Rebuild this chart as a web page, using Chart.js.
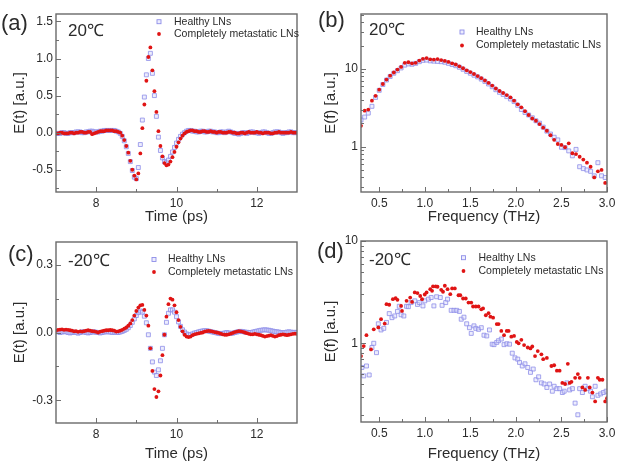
<!DOCTYPE html>
<html><head><meta charset="utf-8">
<script src="https://cdn.jsdelivr.net/npm/chart.js@4.4.0/dist/chart.umd.min.js"></script>
<style>
html,body{margin:0;padding:0;background:#fff;width:624px;height:472px;overflow:hidden}
canvas{position:absolute;left:0;top:0}
</style></head><body>
<canvas id="pa" width="624" height="472"></canvas>
<canvas id="pb" width="624" height="472"></canvas>
<canvas id="pc" width="624" height="472"></canvas>
<canvas id="pd" width="624" height="472"></canvas>
<script>
// ---------- series labels ----------
const healthyLabel = 'Healthy LNs';
const metaLabel = 'Completely metastatic LNs';

// ---------- time axis (ps) for panels (a) and (c) ----------
const timePs = [
 7.00,7.05,7.10,7.15,7.20,7.25,7.30,7.35,7.40,7.45,
 7.50,7.55,7.60,7.65,7.70,7.75,7.80,7.85,7.90,7.95,
 8.00,8.05,8.10,8.15,8.20,8.25,8.30,8.35,8.40,8.45,
 8.50,8.55,8.60,8.65,8.70,8.75,8.80,8.85,8.90,8.95,
 9.00,9.05,9.10,9.15,9.20,9.25,9.30,9.35,9.40,9.45,
 9.50,9.55,9.60,9.65,9.70,9.75,9.80,9.85,9.90,9.95,
 10.00,10.05,10.10,10.15,10.20,10.25,10.30,10.35,10.40,10.45,
 10.50,10.55,10.60,10.65,10.70,10.75,10.80,10.85,10.90,10.95,
 11.00,11.05,11.10,11.15,11.20,11.25,11.30,11.35,11.40,11.45,
 11.50,11.55,11.60,11.65,11.70,11.75,11.80,11.85,11.90,11.95,
 12.00,12.05,12.10,12.15,12.20,12.25,12.30,12.35,12.40,12.45,
 12.50,12.55,12.60,12.65,12.70,12.75,12.80,12.85,12.90,12.95,
 13.00];

// (a) 20 °C, E(t)
const aHealthy = [
 -0.01,-0.01,-0.01,0.00,0.00,-0.01,-0.01,0.00,0.00,0.00,
 0.01,0.01,0.01,0.00,0.00,0.01,0.01,0.02,0.02,0.01,
 0.01,0.01,0.02,0.02,0.03,0.03,0.03,0.03,0.03,0.03,
 0.02,0.01,-0.01,-0.05,-0.11,-0.19,-0.28,-0.39,-0.51,-0.60,
 -0.62,-0.47,-0.16,0.17,0.48,0.78,1.00,1.07,0.80,0.50,
 0.22,-0.06,-0.24,-0.34,-0.39,-0.40,-0.37,-0.32,-0.26,-0.20,
 -0.14,-0.09,-0.05,-0.02,0.00,0.02,0.03,0.03,0.02,0.02,
 0.01,0.01,0.02,0.02,0.01,0.01,0.02,0.02,0.01,0.01,
 0.00,0.00,0.01,0.01,0.00,0.01,0.02,0.01,0.00,-0.01,
 -0.01,-0.02,-0.01,0.00,0.00,-0.01,0.00,0.01,0.01,0.00,
 0.00,-0.01,0.00,0.01,0.01,0.00,-0.01,-0.01,0.00,0.01,
 0.01,0.01,0.00,-0.01,0.00,0.00,0.01,0.01,0.00,0.00,
 0.00];
const aMeta = [
 -0.01,-0.01,0.00,0.00,-0.01,-0.01,-0.01,0.00,0.00,-0.01,
 0.00,0.00,0.01,0.01,0.00,0.00,0.01,0.01,-0.02,-0.01,
 0.00,0.01,0.02,0.02,0.02,0.03,0.03,0.03,0.03,0.02,
 0.02,0.01,0.00,-0.04,-0.10,-0.18,-0.27,-0.38,-0.50,-0.58,
 -0.63,-0.55,-0.28,0.06,0.38,0.70,1.02,1.15,0.84,0.56,
 0.28,0.02,-0.18,-0.32,-0.41,-0.44,-0.43,-0.39,-0.33,-0.26,
 -0.19,-0.13,-0.08,-0.04,-0.01,0.01,0.02,0.03,0.03,0.02,
 0.02,0.01,0.01,0.02,0.02,0.01,0.01,0.02,0.01,0.01,
 0.00,0.01,0.01,0.00,0.00,0.00,0.01,0.01,0.00,0.00,
 -0.01,-0.01,0.00,0.00,-0.01,0.00,0.01,0.00,0.00,0.00,
 0.01,0.00,0.00,-0.01,0.00,0.00,0.00,-0.01,-0.01,0.00,
 0.00,0.01,0.00,0.00,0.00,0.00,0.00,0.01,0.00,0.00,
 0.00];

// (c) -20 °C, E(t)
const cHealthy = [
 0.005,0.003,0.000,0.002,0.004,0.003,0.000,-0.002,0.000,0.002,
 0.000,-0.003,0.000,0.003,0.002,0.000,-0.002,0.000,0.002,0.003,
 0.001,0.000,-0.002,0.000,0.002,0.003,0.003,0.002,0.000,0.002,
 0.000,0.000,0.002,0.005,0.009,0.014,0.021,0.031,0.045,0.060,
 0.075,0.088,0.095,0.090,0.072,0.043,-0.010,-0.070,-0.130,-0.175,
 -0.190,-0.165,-0.125,-0.070,-0.010,0.045,0.085,0.100,0.100,0.090,
 0.070,0.047,0.027,0.012,0.002,-0.006,-0.010,-0.010,-0.006,-0.002,
 0.000,0.003,0.005,0.007,0.008,0.008,0.006,0.004,0.002,0.000,
 -0.002,-0.004,-0.005,-0.004,-0.002,0.000,-0.002,-0.004,-0.003,0.000,
 0.002,0.004,0.005,0.004,0.002,0.001,0.000,0.000,0.002,0.004,
 0.006,0.008,0.010,0.011,0.012,0.011,0.010,0.008,0.006,0.004,
 0.003,0.002,0.000,-0.002,0.000,0.002,0.003,0.002,0.000,0.001,
 0.000];
const cMeta = [
 0.008,0.012,0.013,0.014,0.012,0.013,0.012,0.010,0.008,0.005,
 0.006,0.003,0.005,0.004,0.006,0.008,0.010,0.008,0.006,0.005,
 0.003,0.000,0.004,0.006,0.008,0.010,0.010,0.011,0.010,0.008,
 0.004,0.005,0.008,0.012,0.017,0.022,0.030,0.040,0.055,0.075,
 0.095,0.110,0.120,0.122,0.100,0.075,0.030,-0.070,-0.170,-0.250,
 -0.285,-0.260,-0.190,-0.100,-0.010,0.070,0.125,0.150,0.145,0.120,
 0.090,0.055,0.025,0.005,-0.010,-0.018,-0.020,-0.018,-0.012,-0.008,
 -0.006,-0.004,-0.002,0.000,0.004,0.006,0.007,0.006,0.004,0.002,
 0.000,-0.002,-0.005,-0.008,-0.010,-0.010,-0.008,-0.005,-0.002,0.002,
 0.004,0.006,0.005,0.003,0.000,-0.003,-0.006,-0.008,-0.008,-0.006,
 -0.008,-0.010,-0.012,-0.015,-0.018,-0.016,-0.014,-0.012,-0.015,-0.018,
 -0.016,-0.012,-0.010,-0.008,-0.010,-0.012,-0.010,-0.008,-0.006,-0.005,
 -0.006];

// (b) 20 °C, E(f)
const bFreq = [
 0.30,0.34,0.38,0.42,0.46,0.50,0.54,0.58,0.62,0.66,
 0.70,0.74,0.78,0.82,0.86,0.90,0.94,0.98,1.02,1.06,
 1.10,1.14,1.18,1.22,1.26,1.30,1.34,1.38,1.42,1.46,
 1.50,1.54,1.58,1.62,1.66,1.70,1.74,1.78,1.82,1.86,
 1.90,1.94,1.98,2.02,2.06,2.10,2.14,2.18,2.22,2.26,
 2.30,2.34,2.38,2.42,2.46,2.50,2.54,2.58,2.62,2.66,
 2.70,2.74,2.78,2.82,2.86,2.90,2.94,2.98];
const bHealthy = [
 2.2,2.4,2.7,3.3,4.3,5.3,6.3,7.2,8.0,8.8,
 9.5,10.3,11.2,11.6,11.5,11.8,12.4,12.9,13.0,12.7,
 12.6,12.5,12.4,12.2,11.8,11.4,11.0,10.5,9.9,9.3,
 8.8,8.3,7.9,7.4,6.9,6.4,5.9,5.4,5.0,4.7,
 4.4,4.1,3.8,3.4,3.0,2.75,2.55,2.35,2.15,2.0,
 1.78,1.58,1.45,1.32,1.22,0.98,0.97,0.88,0.76,0.92,
 0.55,0.52,0.50,0.48,0.42,0.62,0.42,0.40];
const bMeta = [
 1.85,2.9,3.0,3.9,4.5,5.4,6.4,7.3,8.2,9.0,
 9.8,10.6,12.0,12.2,11.8,12.0,12.8,13.5,13.8,13.3,
 13.2,13.4,13.0,12.7,12.3,11.8,11.4,10.8,10.2,9.6,
 9.1,8.6,8.1,7.6,7.1,6.6,6.1,5.6,5.2,4.9,
 4.6,4.3,3.9,3.5,3.2,2.85,2.55,2.3,2.15,1.95,
 1.75,1.6,1.4,1.22,1.08,1.05,0.98,1.1,0.82,0.80,
 0.74,0.68,0.62,0.55,0.40,0.48,0.50,0.34];

// (d) -20 °C, E(f)
const dHealthyFreq = [
 0.31,0.33,0.36,0.39,0.42,0.44,0.47,0.49,0.52,0.55,
 0.58,0.61,0.64,0.67,0.70,0.72,0.74,0.77,0.80,0.82,
 0.85,0.89,0.92,0.94,0.98,1.00,1.04,1.07,1.10,1.13,
 1.17,1.19,1.23,1.25,1.29,1.32,1.35,1.38,1.40,1.43,
 1.46,1.49,1.51,1.54,1.56,1.59,1.62,1.65,1.68,1.71,
 1.74,1.76,1.79,1.81,1.84,1.87,1.90,1.93,1.96,1.99,
 2.02,2.04,2.07,2.10,2.13,2.16,2.19,2.22,2.25,2.28,
 2.31,2.34,2.37,2.40,2.42,2.45,2.48,2.51,2.53,2.56,
 2.59,2.62,2.65,2.68,2.70,2.73,2.76,2.79,2.82,2.84,
 2.87,2.90,2.93,2.96,2.99];
const dHealthy = [
 0.58,0.48,0.60,0.49,0.91,1.00,0.81,1.55,1.35,1.40,
 1.60,1.95,1.78,1.85,2.05,2.30,1.90,1.85,2.30,2.28,
 2.50,2.60,2.40,2.50,2.32,2.60,2.70,2.80,2.32,2.85,
 2.80,2.35,2.50,2.70,2.10,2.10,2.10,2.05,1.72,1.80,
 1.55,1.42,1.25,1.48,1.40,1.37,1.42,1.20,1.18,1.35,
 0.98,0.97,1.02,1.06,1.10,0.97,0.99,0.98,0.80,0.72,
 0.70,0.65,0.60,0.63,0.58,0.52,0.56,0.44,0.47,0.41,
 0.40,0.37,0.40,0.34,0.38,0.36,0.36,0.33,0.34,0.41,
 0.35,0.36,0.26,0.20,0.36,0.33,0.38,0.36,0.34,0.30,
 0.38,0.31,0.32,0.33,0.34];
const dMetaFreq = [
 0.30,0.33,0.36,0.41,0.44,0.49,0.52,0.56,0.58,0.61,
 0.65,0.68,0.70,0.74,0.75,0.80,0.84,0.86,0.89,0.92,
 0.95,0.97,1.00,1.02,1.06,1.08,1.09,1.12,1.14,1.18,
 1.20,1.22,1.25,1.28,1.30,1.33,1.37,1.39,1.42,1.45,
 1.48,1.51,1.53,1.56,1.59,1.62,1.64,1.67,1.70,1.72,
 1.75,1.79,1.81,1.84,1.87,1.90,1.92,1.95,1.98,2.01,
 2.03,2.06,2.09,2.13,2.16,2.18,2.21,2.24,2.28,2.30,
 2.34,2.39,2.42,2.45,2.48,2.51,2.54,2.57,2.59,2.61,
 2.65,2.68,2.70,2.73,2.76,2.79,2.81,2.84,2.87,2.90,
 2.92,2.95,2.98,3.00];
const dMeta = [
 0.75,0.94,1.20,0.87,1.37,1.43,1.72,1.56,2.41,2.38,
 2.70,2.76,2.66,2.32,2.07,2.60,2.80,2.54,3.14,3.10,
 2.90,2.70,3.00,3.14,3.38,3.26,3.60,3.60,3.57,3.33,
 3.19,3.65,3.38,3.02,3.44,3.44,2.95,2.95,2.74,2.74,
 2.50,2.50,2.29,2.29,2.29,2.15,2.19,1.88,1.97,1.82,
 1.78,1.54,1.54,1.32,1.20,1.32,1.32,1.16,1.18,1.03,
 1.00,1.08,0.96,0.91,0.89,0.93,0.75,0.84,0.78,0.70,
 0.72,0.60,0.61,0.54,0.54,0.41,0.40,0.63,0.41,0.42,
 0.46,0.50,0.46,0.37,0.35,0.46,0.37,0.33,0.27,0.46,
 0.44,0.44,0.27,0.29];

// ---------- tick values ----------
const timeTicks = [8, 10, 12];
const timeMinor = [9, 11];
const aYTicks = [-0.5, 0, 0.5, 1.0, 1.5];
const aYMinor = [-0.75, -0.25, 0.25, 0.75, 1.25];
const cYTicks = [-0.3, 0, 0.3];
const cYMinor = [-0.15, 0.15];
const freqTicks = [0.5, 1.0, 1.5, 2.0, 2.5, 3.0];
const freqMinor = [0.75, 1.25, 1.75, 2.25, 2.75];
const logTicks = [1, 10];
const bYMinor = [0.3,0.4,0.5,0.6,0.7,0.8,0.9,2,3,4,5,6,7,8,9,20,30,40,50];
const dYMinor = [0.2,0.3,0.4,0.5,0.6,0.7,0.8,0.9,2,3,4,5,6,7,8,9];

// ---------- styling ----------
const FONT = '"Liberation Sans", Arial, Helvetica, sans-serif';
const TXT = '#2b2b2b';
const RED = '#e01414';
const BLUE_EDGE = '#8e8ee8';
const BLUE_FILL = 'rgba(215,215,250,0.45)';
const YW = 48, XH = 44;

function pts(xs, ys) { return xs.map((x, i) => ({x: x, y: ys[i]})); }

function makeDecor(c) {
  return {
    id: 'decor',
    afterDatasetsDraw(chart) {
      const ctx = chart.ctx, a = chart.chartArea, xs = chart.scales.x, ys = chart.scales.y;
      ctx.save();
      ctx.strokeStyle = '#707070';
      ctx.lineWidth = 1;
      const dx = (v, len) => { const p = Math.round(xs.getPixelForValue(v)) + 0.5; ctx.beginPath(); ctx.moveTo(p, a.bottom); ctx.lineTo(p, a.bottom - len); ctx.stroke(); };
      const dy = (v, len) => { const p = Math.round(ys.getPixelForValue(v)) + 0.5; ctx.beginPath(); ctx.moveTo(a.left, p); ctx.lineTo(a.left + len, p); ctx.stroke(); };
      c.xMajor.forEach(v => dx(v, 5)); c.xMinor.forEach(v => dx(v, 3));
      c.yMajor.forEach(v => dy(v, 5)); c.yMinor.forEach(v => dy(v, 3));
      ctx.lineWidth = 1.4; ctx.strokeStyle = '#6a6a6a';
      ctx.strokeRect(a.left, a.top, a.right - a.left, a.bottom - a.top);
      ctx.fillStyle = TXT; ctx.textBaseline = 'middle'; ctx.textAlign = 'left';
      ctx.font = '22px ' + FONT; ctx.fillText(c.tag, c.tagX, c.tagY);
      ctx.font = '17px ' + FONT; ctx.fillText(c.temp, c.tempX, c.tempY);
      // legend
      ctx.lineWidth = 0.9; ctx.strokeStyle = BLUE_EDGE; ctx.fillStyle = BLUE_FILL;
      ctx.fillRect(c.lgX - 2, c.lgY1 - 2, 4, 4); ctx.strokeRect(c.lgX - 2, c.lgY1 - 2, 4, 4);
      ctx.beginPath(); ctx.arc(c.lgX, c.lgY2, 1.9, 0, Math.PI * 2); ctx.fillStyle = RED; ctx.fill();
      ctx.fillStyle = TXT; ctx.font = '10.5px ' + FONT;
      ctx.fillText(healthyLabel, c.lgTX, c.lgY1);
      ctx.fillText(metaLabel, c.lgTX, c.lgY2);
      ctx.restore();
    }
  };
}

function panel(id, c) {
  const ar = c.area;
  new Chart(document.getElementById(id), {
    type: 'scatter',
    data: { datasets: [
      { label: metaLabel, data: c.meta, pointStyle: 'circle', pointRadius: 1.9, pointBackgroundColor: RED, pointBorderWidth: 0, pointHoverRadius: 1.9 },
      { label: healthyLabel, data: c.healthy, pointStyle: 'rect', pointRadius: 2.8, pointBorderColor: BLUE_EDGE, pointBackgroundColor: BLUE_FILL, pointBorderWidth: 0.8, pointHoverRadius: 2.8 }
    ]},
    options: {
      responsive: false, animation: false, devicePixelRatio: 1,
      events: [],
      layout: { padding: { left: ar.l - YW, right: 624 - ar.r, top: ar.t, bottom: 472 - ar.b - XH } },
      plugins: { legend: { display: false }, tooltip: { enabled: false } },
      scales: {
        x: {
          type: 'linear', min: c.xMin, max: c.xMax,
          grid: { display: false, drawTicks: false }, border: { display: false },
          afterBuildTicks: s => { s.ticks = c.xMajor.map(v => ({ value: v })); },
          afterFit: s => { s.height = XH; },
          ticks: { padding: 4, color: TXT, autoSkip: false, maxRotation: 0, font: { family: FONT, size: 12 }, callback: c.xFmt },
          title: { display: true, text: c.xTitle, color: TXT, font: { family: FONT, size: 15 }, padding: { top: 0, bottom: c.xTitlePad } }
        },
        y: {
          type: c.yType, min: c.yMin, max: c.yMax,
          grid: { display: false, drawTicks: false }, border: { display: false },
          afterBuildTicks: s => { s.ticks = c.yMajor.map(v => ({ value: v })); },
          afterFit: s => { s.width = YW; },
          ticks: { padding: 3, color: TXT, autoSkip: false, font: { family: FONT, size: 12 }, callback: c.yFmt },
          title: { display: true, text: c.yTitle, color: TXT, font: { family: FONT, size: 15 }, padding: { top: c.yTitlePad, bottom: 0 } }
        }
      }
    },
    plugins: [makeDecor(c)]
  });
}

const fmtInt = v => String(v);
const fmt1 = v => (Math.abs(v) < 1e-9 ? 0 : v).toFixed(1);
const fmtLog = v => String(v);

panel('pa', {
  area: { l: 56, r: 297, t: 14, b: 192 },
  healthy: pts(timePs, aHealthy), meta: pts(timePs, aMeta),
  xMin: 7, xMax: 13, yType: 'linear', yMin: -0.8, yMax: 1.6,
  xMajor: timeTicks, xMinor: timeMinor, yMajor: aYTicks, yMinor: aYMinor,
  xFmt: fmtInt, yFmt: fmt1, xTitle: 'Time (ps)', yTitle: 'E(t) [a.u.]',
  xTitlePad: 10, yTitlePad: 3,
  tag: '(a)', tagX: 1, tagY: 24, temp: '20\u2103', tempX: 68, tempY: 31,
  lgX: 159, lgY1: 21.7, lgY2: 34, lgTX: 174
});
panel('pb', {
  area: { l: 361, r: 607, t: 14, b: 192 },
  healthy: pts(bFreq, bHealthy), meta: pts(bFreq, bMeta),
  xMin: 0.3, xMax: 3.0, yType: 'logarithmic', yMin: 0.26, yMax: 51,
  xMajor: freqTicks, xMinor: freqMinor, yMajor: logTicks, yMinor: bYMinor,
  xFmt: fmt1, yFmt: fmtLog, xTitle: 'Frequency (THz)', yTitle: 'E(f) [a.u.]',
  xTitlePad: 10, yTitlePad: 9,
  tag: '(b)', tagX: 318, tagY: 21, temp: '20\u2103', tempX: 369, tempY: 30,
  lgX: 462, lgY1: 32, lgY2: 45.5, lgTX: 476
});
panel('pc', {
  area: { l: 56, r: 297, t: 242, b: 423 },
  healthy: pts(timePs, cHealthy), meta: pts(timePs, cMeta),
  xMin: 7, xMax: 13, yType: 'linear', yMin: -0.4, yMax: 0.4,
  xMajor: timeTicks, xMinor: timeMinor, yMajor: cYTicks, yMinor: cYMinor,
  xFmt: fmtInt, yFmt: fmt1, xTitle: 'Time (ps)', yTitle: 'E(t) [a.u.]',
  xTitlePad: 4, yTitlePad: 3,
  tag: '(c)', tagX: 8, tagY: 255, temp: '-20\u2103', tempX: 68, tempY: 261,
  lgX: 154, lgY1: 259.5, lgY2: 272, lgTX: 168
});
panel('pd', {
  area: { l: 361, r: 607, t: 241, b: 422 },
  healthy: pts(dHealthyFreq, dHealthy), meta: pts(dMetaFreq, dMeta),
  xMin: 0.3, xMax: 3.0, yType: 'logarithmic', yMin: 0.17, yMax: 10,
  xMajor: freqTicks, xMinor: freqMinor, yMajor: logTicks, yMinor: dYMinor,
  xFmt: fmt1, yFmt: fmtLog, xTitle: 'Frequency (THz)', yTitle: 'E(f) [a.u.]',
  xTitlePad: 3, yTitlePad: 9,
  tag: '(d)', tagX: 317, tagY: 252, temp: '-20\u2103', tempX: 369, tempY: 260,
  lgX: 463.5, lgY1: 257.7, lgY2: 271, lgTX: 478.5
});
</script>
</body></html>
